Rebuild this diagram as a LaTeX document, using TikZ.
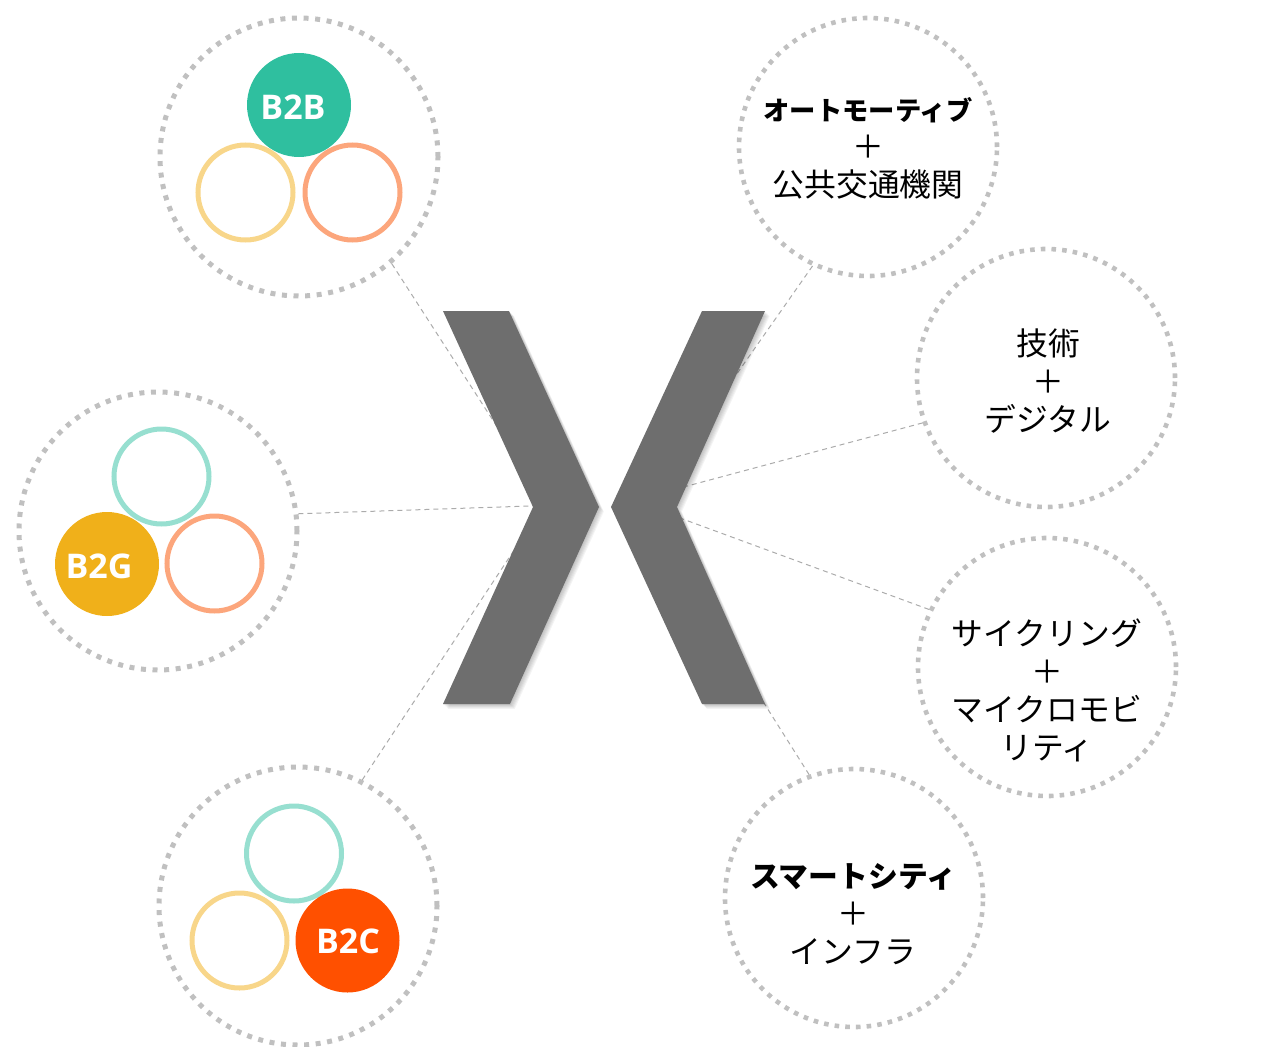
\documentclass[tikz,border=0pt]{standalone}
\usepackage{fontspec}
\setmainfont{Open Sans}
\newfontfamily\jp{Noto Sans CJK JP}
\definecolor{dotgray}{HTML}{C0C0C0}
\definecolor{linegray}{HTML}{ABABAB}
\definecolor{chev}{HTML}{6E6E6E}
\definecolor{cteal}{HTML}{2FBF9F}
\definecolor{lteal}{HTML}{97DFD0}
\definecolor{cyel}{HTML}{F8D68A}
\definecolor{corg}{HTML}{FCA67C}
\definecolor{camber}{HTML}{F0B01A}
\definecolor{cred}{HTML}{FF5000}
\newcommand\chevL{(443,311) -- (509,311) -- (599,507) -- (510,704) -- (443,704) -- (533,507) -- cycle}
\newcommand\chevR{(702,311) -- (765,311) -- (677,507) -- (765,704) -- (702,704) -- (611,507) -- cycle}
\newcommand\jsz[1]{\fontsize{#1}{38}\selectfont}
\begin{document}
\begin{tikzpicture}[x=1pt,y=-1pt,
  outerL/.style={circle, draw=dotgray, line width=5pt, dash pattern=on 5pt off 6.6pt, minimum size=278pt, inner sep=0pt},
  outerR/.style={circle, draw=dotgray, line width=4.6pt, dash pattern=on 4.6pt off 6.1pt, minimum size=258pt, inner sep=0pt},
  ring/.style={circle, draw=#1, line width=5pt, minimum size=95pt, inner sep=0pt},
  disc/.style={circle, fill=#1, minimum size=104pt, inner sep=0pt},
  btxt/.style={text=white, inner sep=0pt, font=\bfseries\fontsize{34}{40}\selectfont},
  jtxt/.style={align=center, inner sep=0pt, font=\jp\fontsize{31.8}{38}\selectfont},
  conn/.style={draw=linegray, line width=1pt, dash pattern=on 5pt off 4pt}]
\useasboundingbox (0,0) rectangle (1268,1046);

% outer dotted circles
\node[outerL] (b2b) at (299,157) {};
\node[outerL] (b2g) at (158,531) {};
\node[outerL] (b2c) at (298,906) {};
\node[outerR] (auto) at (868,147) {};
\node[outerR] (tech) at (1046,378) {};
\node[outerR] (cyc) at (1047,667) {};
\node[outerR] (smart) at (854,898) {};

% hub coordinates (behind chevrons)
\coordinate (hb2b) at (525,470);
\coordinate (hb2g) at (560,505);
\coordinate (hb2c) at (534,520);
\coordinate (hauto) at (715,405);
\coordinate (htech) at (650,496);
\coordinate (hcyc) at (650,507);
\coordinate (hsmart) at (745,673);

% connectors
\draw[conn] (b2b.-49) -- (hb2b);
\draw[conn] (b2g.7.6) -- (hb2g);
\draw[conn] (b2c.63) -- (hb2c);
\draw[conn] (auto.-115.6) -- (hauto);
\draw[conn] (tech.200.4) -- (htech);
\draw[conn] (cyc.154.4) -- (hcyc);
\draw[conn] (smart.110.2) -- (hsmart);

% chevron shadows
\foreach \s in {1,...,6}{
  \fill[black, opacity=0.045, shift={(\s*0.8,\s*0.8)}] \chevL;
  \fill[black, opacity=0.045, shift={(\s*0.8,\s*0.8)}] \chevR;
}
\fill[chev] \chevL;
\fill[chev] \chevR;

% B2B group
\node[ring=cyel] (b2b-y) at (245.5,192.5) {};
\node[ring=corg] (b2b-o) at (352.5,192.5) {};
\node[disc=cteal] (b2b-d) at (299,105) {};
\node[btxt] (b2b-t) at (293,107) {B2B};

% B2G group
\node[ring=lteal] (b2g-t2) at (161.5,476.5) {};
\node[ring=corg] (b2g-o) at (214.5,563.5) {};
\node[disc=camber] (b2g-d) at (107,564) {};
\node[btxt] (b2g-t) at (99,566) {B2G};

% B2C group
\node[ring=lteal] (b2c-t2) at (294,853.5) {};
\node[ring=cyel] (b2c-y) at (239.5,940.5) {};
\node[disc=cred] (b2c-d) at (347.5,940.5) {};
\node[btxt] (b2c-t) at (348,941.5) {B2C};

% right texts
\node[jtxt] (auto-t) at (868,148.5) {{\bfseries\jsz{26.3}オートモーティブ}\\＋\\公共交通機関};
\node[jtxt] (tech-t) at (1048,381) {技術\\＋\\デジタル};
\node[jtxt] (cyc-t) at (1047,690) {サイクリング\\＋\\マイクロモビ\\リティ};
\node[jtxt] (smart-t) at (853,914) {{\bfseries\jsz{29.8}スマートシティ}\\＋\\インフラ};
\end{tikzpicture}
\end{document}
